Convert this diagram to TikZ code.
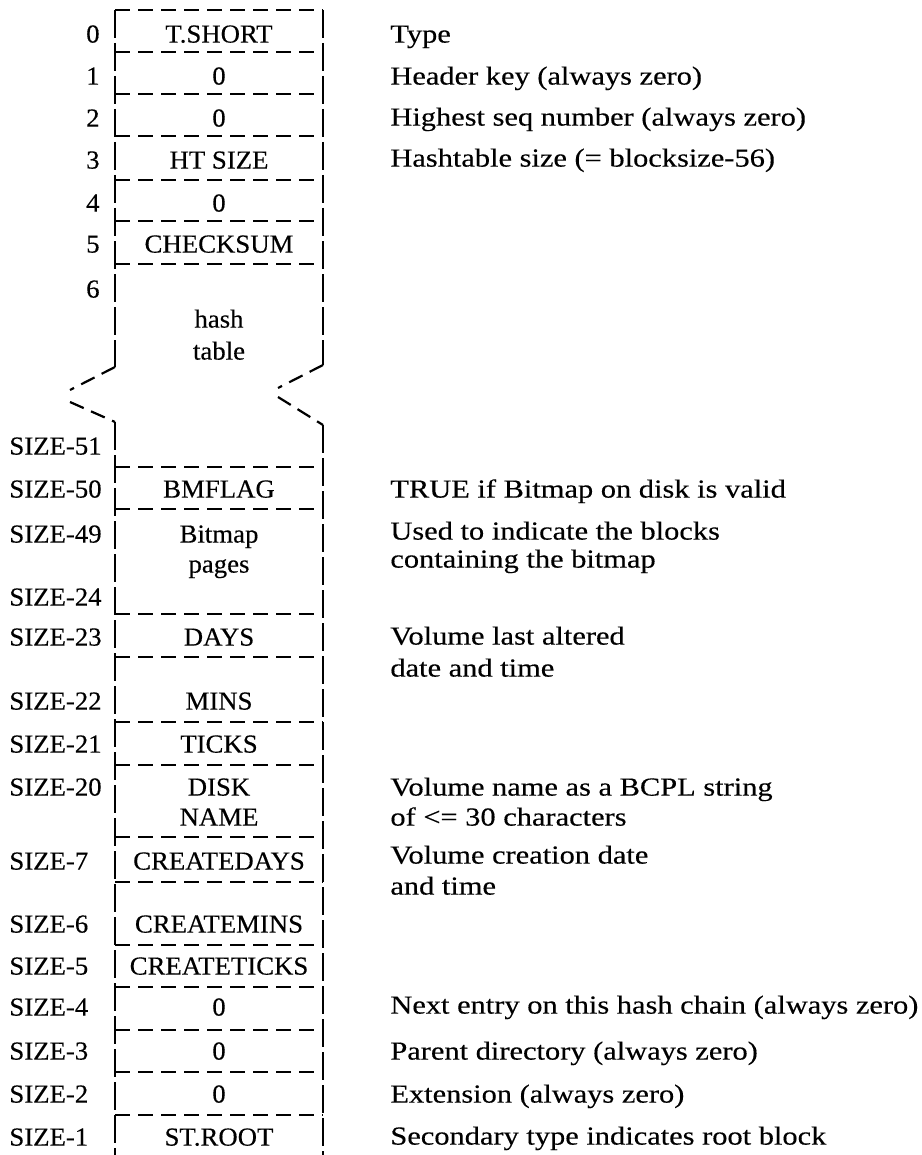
\documentclass[tikz,border=0pt]{standalone}
\usepackage{fontspec}
\setmainfont{Liberation Serif}[FakeStretch=1.03,FakeBold=0.3]
\newfontfamily\notefont{Liberation Serif}[FakeStretch=1.17,FakeBold=0.3]

\begin{document}
\begin{tikzpicture}[x=0.5pt,y=-0.5pt,every node/.style={font=\fontsize{13}{15}\selectfont,inner sep=0pt,yshift=-1.5pt},
   side/.style={line width=1.1pt,dash pattern=on 14pt off 2.5pt},
   rule/.style={line width=1.1pt,dash pattern=on 7.5pt off 4pt},
   cell/.style={anchor=mid},
   num/.style={anchor=mid east},
   off/.style={anchor=mid west},
   note/.style={anchor=mid west,font=\fontsize{13}{15}\notefont}]
  \useasboundingbox (0,0) rectangle (921,1155);
  % sides of the block, broken across the hash table
  \draw[side] (115,10)--(115,367) (323,10)--(323,365);
  \draw[side] (115,422)--(115,1155) (323,425)--(323,1155);
  \draw[rule] (115,367)--(70,390) (70,402)--(115,422);
  \draw[rule] (323,365)--(278,388) (278,397)--(323,425);
  \foreach \y in {10,52,94,136,180,221,264,467,509,614,657,722,765,837,882,945,987,1030,1072,1115}
    \draw[rule] (115,\y)--(323,\y);
  % word contents
  \foreach \n/\y/\t in {type/35/T.SHORT,hkey/77/0,hseq/119/0,htsize/161/HT SIZE,zero/204/0,
      cksum/245/CHECKSUM,hash/320/hash,table/352/table,bmflag/490/BMFLAG,bitmap/535/Bitmap,
      pages/565/pages,days/638/DAYS,mins/702/MINS,ticks/745/TICKS,disk/788/DISK,name/818/NAME,
      cdays/862/CREATEDAYS,cmins/925/CREATEMINS,cticks/967/CREATETICKS,chain/1008/0,
      parent/1052/0,ext/1095/0,stroot/1138/ST.ROOT}
    \node[cell](\n) at (219,\y){\t};
  % offsets
  \foreach \y/\t in {35/0,77/1,119/2,161/3,204/4,245/5,290/6}
    \node[num](o\t) at (100,\y){\t};
  \foreach \y/\t in {447/51,490/50,535/49,598/24,638/23,702/22,745/21,788/20,
      862/7,925/6,967/5,1008/4,1052/3,1095/2,1138/1}
    \node[off](s\t) at (9,\y){SIZE-\t};
  % descriptions
  \foreach \n/\y/\t in {d1/35/Type,d2/77/Header key (always zero),
      d3/118/Highest seq number (always zero),d4/159/Hashtable size (= blocksize-56),
      d5/490/TRUE if Bitmap on disk is valid,d6/532/Used to indicate the blocks,
      d7/560/containing the bitmap,d8/637/Volume last altered,d9/669/date and time,
      d10/788/Volume name as a BCPL string,d11/818/of <= 30 characters,
      d12/856/Volume creation date,d13/887/and time,
      d14/1006/Next entry on this hash chain (always zero),d15/1052/Parent directory (always zero),
      d16/1095/Extension (always zero),d17/1137/Secondary type indicates root block}
    \node[note](\n) at (390,\y){\t};
\end{tikzpicture}
\end{document}
